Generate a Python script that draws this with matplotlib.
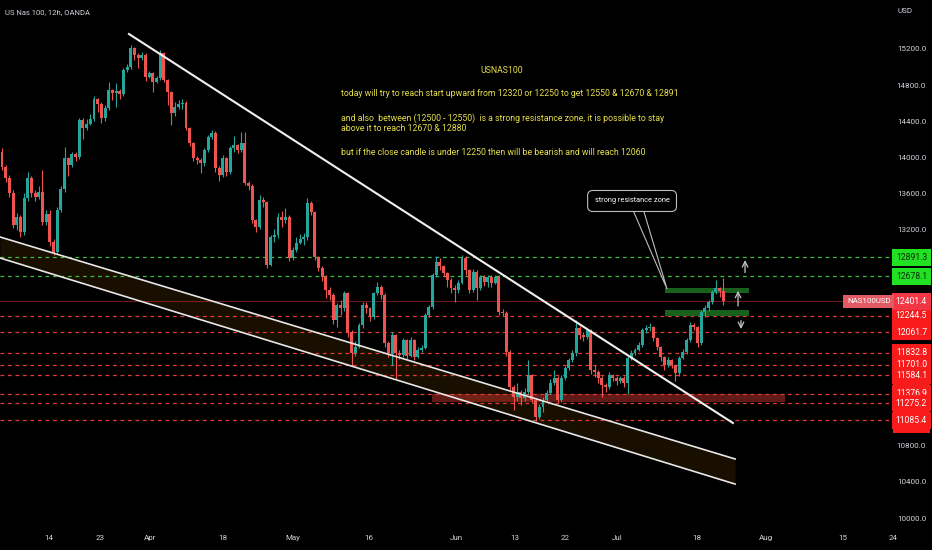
import numpy as np
import matplotlib.pyplot as plt
from matplotlib.patches import Polygon

# no condensed face installed, so Roboto at small sizes stands in for it
plt.rcParams['font.family'] = ['Roboto', 'DejaVu Sans']
FS_TICK = 5.8
FS_NOTE = 6.35
FS_LAB = 6.2
FS_CALL = 5.3

# --- candle data (12h) ---
first_open = 14058
closes = [13890, 13770, 13605, 13250, 13335, 13170, 13550, 13770, 13605, 13560,
          13615, 13280, 13370, 13060, 12950, 13415, 13650, 13990, 13915, 14035,
          14000, 14415, 14325, 14370, 14425, 14645, 14590, 14435, 14545, 14745,
          14710, 14735, 14700, 14965, 15000, 15210, 15135, 15100, 15135, 14890,
          14935, 14835, 14880, 15155, 14855, 14725, 14490, 14555, 14590, 14600,
          14325, 14160, 13990, 13970, 13935, 14080, 14225, 14270, 13880, 13805,
          13990, 13835, 14100, 14135, 14080, 14160, 13715, 13680, 13305, 13230,
          13525, 13500, 12805, 13115, 13140, 13335, 13305, 13340, 12885, 12970,
          13050, 13095, 13115, 13495, 13395, 12895, 12770, 12670, 12530, 12475,
          12195, 12360, 12330, 12495, 12065, 11830, 11895, 12140, 12360, 12330,
          12230, 12495, 12560, 12475, 11940, 11830, 12030, 11830, 11810, 11975,
          11800, 11975, 11785, 11865, 11885, 12250, 12340, 12695, 12840, 12795,
          12715, 12640, 12550, 12530, 12605, 12885, 12750, 12530, 12730, 12550,
          12670, 12615, 12670, 12605, 12670, 12285, 12275, 11840, 11455, 11340,
          11400, 11330, 11400, 11585, 11310, 11120, 11230, 11310, 11385, 11500,
          11555, 11310, 11555, 11665, 11750, 11830, 12105, 12030, 12005, 12085,
          11640, 11620, 11555, 11475, 11455, 11585, 11555, 11520, 11555, 11495,
          11775, 11830, 11865, 11920, 12085, 12105, 12120, 11995, 11895, 11785,
          11695, 11750, 11695, 11610, 11775, 11840, 11975, 12140, 12120, 11940,
          12285, 12330, 12395, 12505, 12550, 12520, 12401.4]
highs = [14100, 13910, 13800, 13640, 13380, 13360, 13600, 13840, 13790, 13640,
         13680, 13860, 13420, 13415, 13090, 13450, 13680, 14110, 14000, 14060,
         14060, 14440, 14430, 14420, 14480, 14680, 14660, 14610, 14580, 14830,
         14760, 14820, 14760, 14990, 15030, 15245, 15225, 15150, 15170, 15150,
         14960, 14950, 14900, 15190, 15170, 14870, 14730, 14610, 14630, 14650,
         14620, 14330, 14170, 14010, 13990, 14100, 14250, 14300, 14290, 13900,
         14030, 14000, 14130, 14230, 14150, 14280, 14280, 13740, 13700, 13320,
         13580, 13560, 13520, 13140, 13200, 13380, 13400, 13440, 13360, 13000,
         13120, 13150, 13160, 13550, 13510, 13400, 12910, 12790, 12690, 12560,
         12490, 12380, 12420, 12520, 12505, 12080, 11960, 12165, 12390, 12400,
         12340, 12510, 12620, 12580, 12490, 11960, 12060, 12040, 11860, 12000,
         11990, 12010, 11990, 11900, 11920, 12270, 12360, 12720, 12900, 12880,
         12810, 12730, 12660, 12580, 12640, 12915, 12900, 12760, 12760, 12745,
         12690, 12690, 12700, 12690, 12700, 12690, 12320, 12290, 11860, 11480,
         11500, 11420, 11440, 11750, 11600, 11330, 11260, 11340, 11420, 11540,
         11640, 11580, 11590, 11690, 11770, 11860, 12195, 12130, 12060, 12100,
         12100, 11700, 11640, 11580, 11500, 11620, 11600, 11570, 11580, 11570,
         11800, 11860, 11890, 11950, 12110, 12140, 12160, 12130, 12010, 11910,
         11800, 11780, 11760, 11710, 11800, 11870, 12000, 12170, 12160, 12130,
         12310, 12360, 12420, 12530, 12640, 12560, 12660]
lows = [13860, 13730, 13560, 13215, 13190, 13120, 13140, 13520, 13560, 13520,
        13540, 13250, 13250, 13020, 12915, 12930, 13390, 13620, 13790, 13890,
        13960, 13980, 14200, 14300, 14360, 14400, 14500, 14380, 14400, 14520,
        14640, 14560, 14650, 14680, 14950, 14980, 15080, 14990, 15080, 14850,
        14880, 14720, 14820, 14860, 14830, 14580, 14360, 14460, 14530, 14540,
        14300, 14120, 13960, 13920, 13820, 13900, 14060, 14200, 13840, 13740,
        13780, 13790, 13810, 14060, 14050, 14060, 13690, 13640, 13270, 13170,
        13200, 13450, 12770, 12790, 13060, 13110, 13230, 13270, 12850, 12860,
        12950, 13040, 13030, 13080, 13360, 12860, 12740, 12630, 12440, 12420,
        12150, 12120, 12250, 12300, 12010, 11690, 11800, 11880, 12110, 12270,
        12180, 12210, 12470, 12430, 11900, 11790, 11700, 11540, 11760, 11790,
        11760, 11780, 11750, 11770, 11840, 11870, 12230, 12320, 12670, 12750,
        12680, 12560, 12500, 12400, 12500, 12590, 12690, 12490, 12510, 12420,
        12530, 12570, 12560, 12560, 12590, 12250, 12240, 11800, 11420, 11200,
        11300, 11250, 11300, 11380, 11280, 11075, 11100, 11180, 11290, 11370,
        11480, 11280, 11290, 11530, 11640, 11730, 11800, 11990, 11960, 11980,
        11600, 11560, 11500, 11340, 11400, 11430, 11520, 11480, 11500, 11450,
        11380, 11750, 11810, 11850, 11900, 12050, 12070, 11960, 11860, 11740,
        11640, 11670, 11660, 11520, 11580, 11760, 11820, 11950, 12080, 11900,
        11920, 12230, 12290, 12370, 12480, 12450, 12360]

# axis labels (price ticks hidden behind the level labels are left out)
x_tick_labels = ['14', '23', 'Apr', '18', 'May', '16', 'Jun', '13', '22', 'Jul', '18', 'Aug', '15', '24']
x_tick_pos = [12.8, 26.6, 40.2, 60.1, 79.1, 99.7, 123.6, 139.4, 153.0, 167.1, 188.9, 207.6, 228.5, 242.1]
y_ticks = [10000, 10400, 10800, 13200, 13600, 14000, 14400, 14800, 15200]

# horizontal levels drawn by the author
green_levels = [12891.3, 12678.1]
red_levels = [12244.5, 12061.7, 11832.8, 11701.0, 11584.1, 11376.9, 11275.2, 11085.4]
last_price = closes[-1]

note_title = 'USNAS100'
note_lines = [
    'today will try to reach start upward from 12320 or 12250 to get 12550 & 12670 & 12891',
    'and also  between (12500 - 12550)  is a strong resistance zone, it is possible to stay',
    'above it to reach 12670 & 12880',
    'but if the close candle is under 12250 then will be bearish and will reach 12060',
]

closes = np.array(closes, dtype=float)
opens = np.r_[first_open, closes[:-1]]
highs = np.maximum(np.array(highs, dtype=float), np.maximum(opens, closes))
lows = np.minimum(np.array(lows, dtype=float), np.minimum(opens, closes))
idx = np.arange(len(closes))

GREEN = '#26a69a'
RED = '#ef5350'

fig = plt.figure(figsize=(9.32, 5.5), dpi=100, facecolor='black')
ax = fig.add_axes([0, 23 / 550, 1, 527 / 550])
ax.set_facecolor('black')
for s in ax.spines.values():
    s.set_visible(False)

ax.set_xlim(-0.54, 252.7)
ax.set_ylim(9901, 15743)

# channel + trend lines
ch_x = [-0.54, 199.2]
ax.fill_between(ch_x, [13116, 10655], [12883, 10377], color='#ff9800', alpha=0.1, lw=0, zorder=0.5)
ax.plot(ch_x, [13116, 10655], color='#e6e6e6', lw=1.2, zorder=2.5)
ax.plot(ch_x, [12883, 10377], color='#e6e6e6', lw=1.2, zorder=2.5)
ax.plot([34.5, 198.6], [15366, 11054], color='#f0f0f0', lw=1.5, zorder=2.5)

# levels
lvl_x = [-0.54, 242.1]
for lv in green_levels:
    ax.plot(lvl_x, [lv, lv], color='#3cbf3c', lw=0.9, dashes=(3, 3), zorder=1)
for lv in red_levels:
    ax.plot(lvl_x, [lv, lv], color='#e53935', lw=0.9, dashes=(3, 3), zorder=1)
ax.plot([-0.54, 236], [last_price, last_price], color='#f23645', alpha=0.45, lw=0.8, zorder=1)

# zones
ax.fill_between([116.8, 212.8], 11290, 11376.9, color='#f44336', alpha=0.4, lw=0, zorder=0.8)
ax.fill_between([180.2, 203.0], 12495, 12550, color='#1b6b20', alpha=0.9, lw=0, zorder=1.2)
ax.fill_between([180.2, 203.0], 12245, 12310, color='#1b6b20', alpha=0.9, lw=0, zorder=1.2)

# candles
cols = np.where(closes >= opens, GREEN, RED)
ax.vlines(idx, lows, highs, colors=cols, lw=0.8, zorder=2)
body_lo = np.minimum(opens, closes)
body_h = np.maximum(np.abs(closes - opens), 8)
ax.bar(idx, body_h, bottom=body_lo, width=0.8, color=cols, lw=0, zorder=2.1)

# arrows
arrow_kw = dict(arrowstyle='->', color='#c8c8c8', lw=0.9)
ax.annotate('', xy=(201.9, 12890), xytext=(201.9, 12690), arrowprops=arrow_kw, zorder=4)
ax.annotate('', xy=(200.0, 12550), xytext=(200.0, 12320), arrowprops=arrow_kw, zorder=4)
ax.annotate('', xy=(200.8, 12065), xytext=(200.8, 12220), arrowprops=arrow_kw, zorder=4)

# callout
ax.add_patch(Polygon([(171.6, 13400), (174.4, 13400), (180.7, 12540)], closed=True,
                     fc='black', ec='#bdbdbd', lw=0.8, zorder=4))
ax.text(171.2, 13515, 'strong resistance zone', color='white', fontsize=FS_CALL, ha='center', va='center',
        zorder=5, bbox=dict(boxstyle='round,pad=0.95,rounding_size=0.7', fc='black', ec='#bdbdbd', lw=0.8))

# notes
YEL = '#e6df4a'
ax.text(135.9, 14956, note_title, color=YEL, fontsize=FS_NOTE, ha='center', va='center', zorder=5)
for txt, py in zip(note_lines, [14701, 14435, 14313, 14058]):
    ax.text(92.1, py, txt, color=YEL, fontsize=FS_NOTE, ha='left', va='center', zorder=5)

# axes ticks
ax.set_xticks(x_tick_pos, x_tick_labels)
ax.set_yticks(y_ticks, [f'{v:.1f}' for v in y_ticks])
ax.yaxis.tick_right()
ax.tick_params(axis='x', length=0, pad=6, labelsize=FS_TICK, colors='#d1d4dc')
ax.tick_params(axis='y', length=0, pad=-4.3, labelsize=FS_TICK, colors='#d1d4dc')
for lbl in ax.get_yticklabels():
    lbl.set_horizontalalignment('right')

# price scale labels
LAB_X = 247.1
# the lower red labels sit on one solid red strip
ax.fill_between([242.1, 252.2], 10943, 11907, color='#f71b1b', lw=0, zorder=5.5)
for lv in green_levels:
    ax.text(LAB_X, lv, f'{lv:.1f}', color='#0b2b0b', fontsize=FS_LAB, ha='center', va='center', zorder=6,
            bbox=dict(boxstyle='square,pad=0.45', fc='#22e022', ec='none'))
for lv in red_levels:
    ax.text(LAB_X, lv, f'{lv:.1f}', color='white', fontsize=FS_LAB, ha='center', va='center', zorder=6,
            bbox=dict(boxstyle='square,pad=0.45', fc='#f71b1b', ec='none'))
ax.text(LAB_X, last_price, f'{last_price:.1f}', color='white', fontsize=FS_LAB, ha='center', va='center',
        zorder=7, bbox=dict(boxstyle='square,pad=0.45', fc='#f23645', ec='none'))
ax.text(235.5, last_price, 'NAS100USD', color='white', fontsize=FS_LAB - 0.5, ha='center', va='center', zorder=7,
        bbox=dict(boxstyle='square,pad=0.45', fc='#e25a63', ec='none'))

fig.text(5 / 932, 1 - 12 / 550, 'US Nas 100, 12h, OANDA', color='#d1d4dc', fontsize=5.5, ha='left', va='center')
fig.text(905 / 932, 1 - 11 / 550, 'USD', color='#d1d4dc', fontsize=FS_TICK, ha='center', va='center')

fig.savefig('out.png', dpi=100, facecolor='black')
